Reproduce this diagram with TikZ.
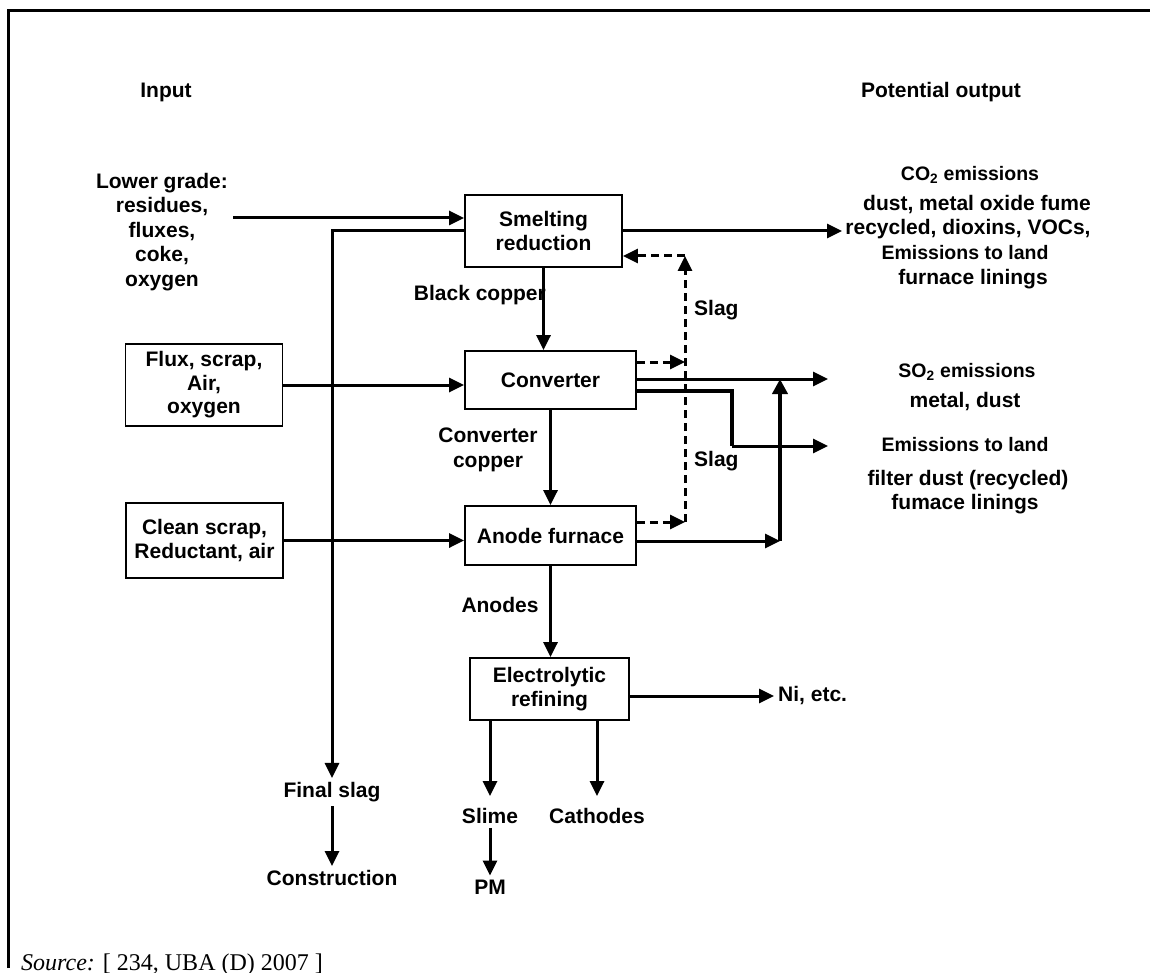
\documentclass[tikz,border=0pt]{standalone}
\usepackage{fontspec}
\setmainfont{Liberation Sans}
\newfontfamily\srcfont{Liberation Serif}
\usetikzlibrary{arrows.meta}
\begin{document}
\begin{tikzpicture}[x=1pt,y=-1pt,
  lw/.style={line width=3pt},
  arr/.style={lw,-{Triangle[length=15pt,width=14pt]}},
  dsh/.style={arr,dash pattern=on 8pt off 5pt},
  box/.style={draw,line width=1.8pt,align=center,inner sep=0pt,font=\bfseries\fontsize{21}{23.5}\selectfont},
  txt/.style={align=center,inner sep=4pt,font=\bfseries\fontsize{21}{24.5}\selectfont},
  hdr/.style={align=center,inner sep=4pt,font=\bfseries\fontsize{19.5}{23}\selectfont}]
\useasboundingbox (0,0) rectangle (1150,973);
% frame
\draw[line width=3pt] (8,968) -- (8,11) -- (1150,11);
% headers
\node[txt] (inp) at (166,92) {Input};
\node[txt] (pout) at (941,92) {Potential output};
% input texts
\node[txt] (lg) at (162,232) {Lower grade:\\residues,\\fluxes,\\coke,\\oxygen};
\node[box,minimum width=157pt,minimum height=82pt] (flux) at (204,385) {Flux, scrap,\\Air,\\oxygen};
\node[box,minimum width=157pt,minimum height=75pt] (clean) at (204.5,540.5) {Clean scrap,\\Reductant, air};
% process boxes
\node[box,minimum width=157pt,minimum height=72pt] (smelt) at (543.5,231) {Smelting\\reduction};
\node[box,minimum width=171pt,minimum height=58pt] (conv) at (550.5,380) {Converter};
\node[box,minimum width=171pt,minimum height=59pt] (anode) at (550.5,535.5) {Anode furnace};
\node[box,minimum width=159pt,minimum height=62pt] (elec) at (549.5,689) {Electrolytic\\refining};
% products
\node[txt] (fs) at (332,792) {Final slag};
\node[txt] (cons) at (332,878) {Construction};
\node[txt] (slime) at (490,816) {Slime};
\node[txt] (pm) at (490,887) {PM};
\node[txt] (cath) at (597,816) {Cathodes};
\node[txt,anchor=west] (ni) at (774,696) {Ni, etc.};
% labels
\node[txt,anchor=east] (lbc) at (550,295) {Black copper};
\node[txt] (lcc) at (488,450) {Converter\\copper};
\node[txt] (lan) at (500,605) {Anodes};
\node[txt,anchor=west] (slag1) at (690,310) {Slag};
\node[txt,anchor=west] (slag2) at (690,461) {Slag};
% outputs
\node[hdr] (co2) at (970,175) {CO\textsubscript{2} emissions};
\node[txt] (dust1) at (977,205) {dust, metal oxide fume};
\node[txt] (rec) at (968,229) {recycled, dioxins, VOCs,};
\node[hdr] (eland1) at (965,253) {Emissions to land};
\node[txt] (fl1) at (973,279) {furnace linings};
\node[hdr] (so2) at (967,372) {SO\textsubscript{2} emissions};
\node[txt] (md) at (965,402) {metal, dust};
\node[hdr] (eland2) at (965,445) {Emissions to land};
\node[txt] (fd) at (968,480) {filter dust (recycled)};
\node[txt] (fl2) at (965,504) {fumace linings};
% coordinates
\coordinate (lgs) at (233,218);
\coordinate (o1) at (842,231);
\coordinate (o2) at (828,379);
\coordinate (bend1) at (732,391);
\coordinate (bend2) at (732,446);
\coordinate (o3) at (828,446);
\coordinate (jn) at (780,541);
\coordinate (jt) at (780,379);
\coordinate (s1) at (685,256);
\coordinate (s2) at (685,362);
\coordinate (s3) at (685,522);
% input connectors
\draw[arr] (lgs) -- (lgs -| smelt.west);
\draw[arr] (smelt.west) -- (smelt.west -| fs.north) -- (fs.north);
\draw[arr] (fs.south) -- (fs.south |- cons.north);
\draw[arr] (flux.east) -- (flux.east -| conv.west);
\draw[arr] (clean.east) -- (clean.east -| anode.west);
% main chain
\draw[arr] (smelt.south) -- (smelt.south |- conv.north);
\draw[arr] (conv.south) -- (conv.south |- anode.north);
\draw[arr] (anode.south) -- (anode.south |- elec.north);
\draw[arr] ([yshift=-7pt]elec.east) -- (ni.west);
\draw[arr,shorten >=8pt] (slime.north |- elec.south) -- (slime.north);
\draw[arr,shorten >=8pt] (cath.north |- elec.south) -- (cath.north);
\draw[arr] (slime.south) -- (pm.north);
% outputs
\draw[arr] (smelt.east) -- (o1);
\draw[arr] ([yshift=1pt]conv.east) -- (o2);
\draw[lw,line width=3.5pt] ([yshift=-11pt]conv.east) -- (bend1) -- (bend2);
\draw[arr] (bend2) -- (o3);
\draw[arr] ([yshift=-5.5pt]anode.east) -- (jn);
\draw[line width=4.5pt,-{Triangle[length=15pt,width=15pt]}] (jn) -- (jt);
% slag recycling
\draw[dsh] (s1) -- ([yshift=-25pt]smelt.east);
\draw[dsh] ([yshift=18pt]conv.east) -- (s2);
\draw[dsh] ([yshift=13.5pt]anode.east) -- (s3);
\draw[dsh] (s3) -- (s1);
% source
\node[anchor=base west,inner sep=0pt,font=\srcfont\fontsize{24}{27}\selectfont] (src) at (21,970) {\textit{Source:} [ 234, UBA (D) 2007 ]};
\end{tikzpicture}
\end{document}
